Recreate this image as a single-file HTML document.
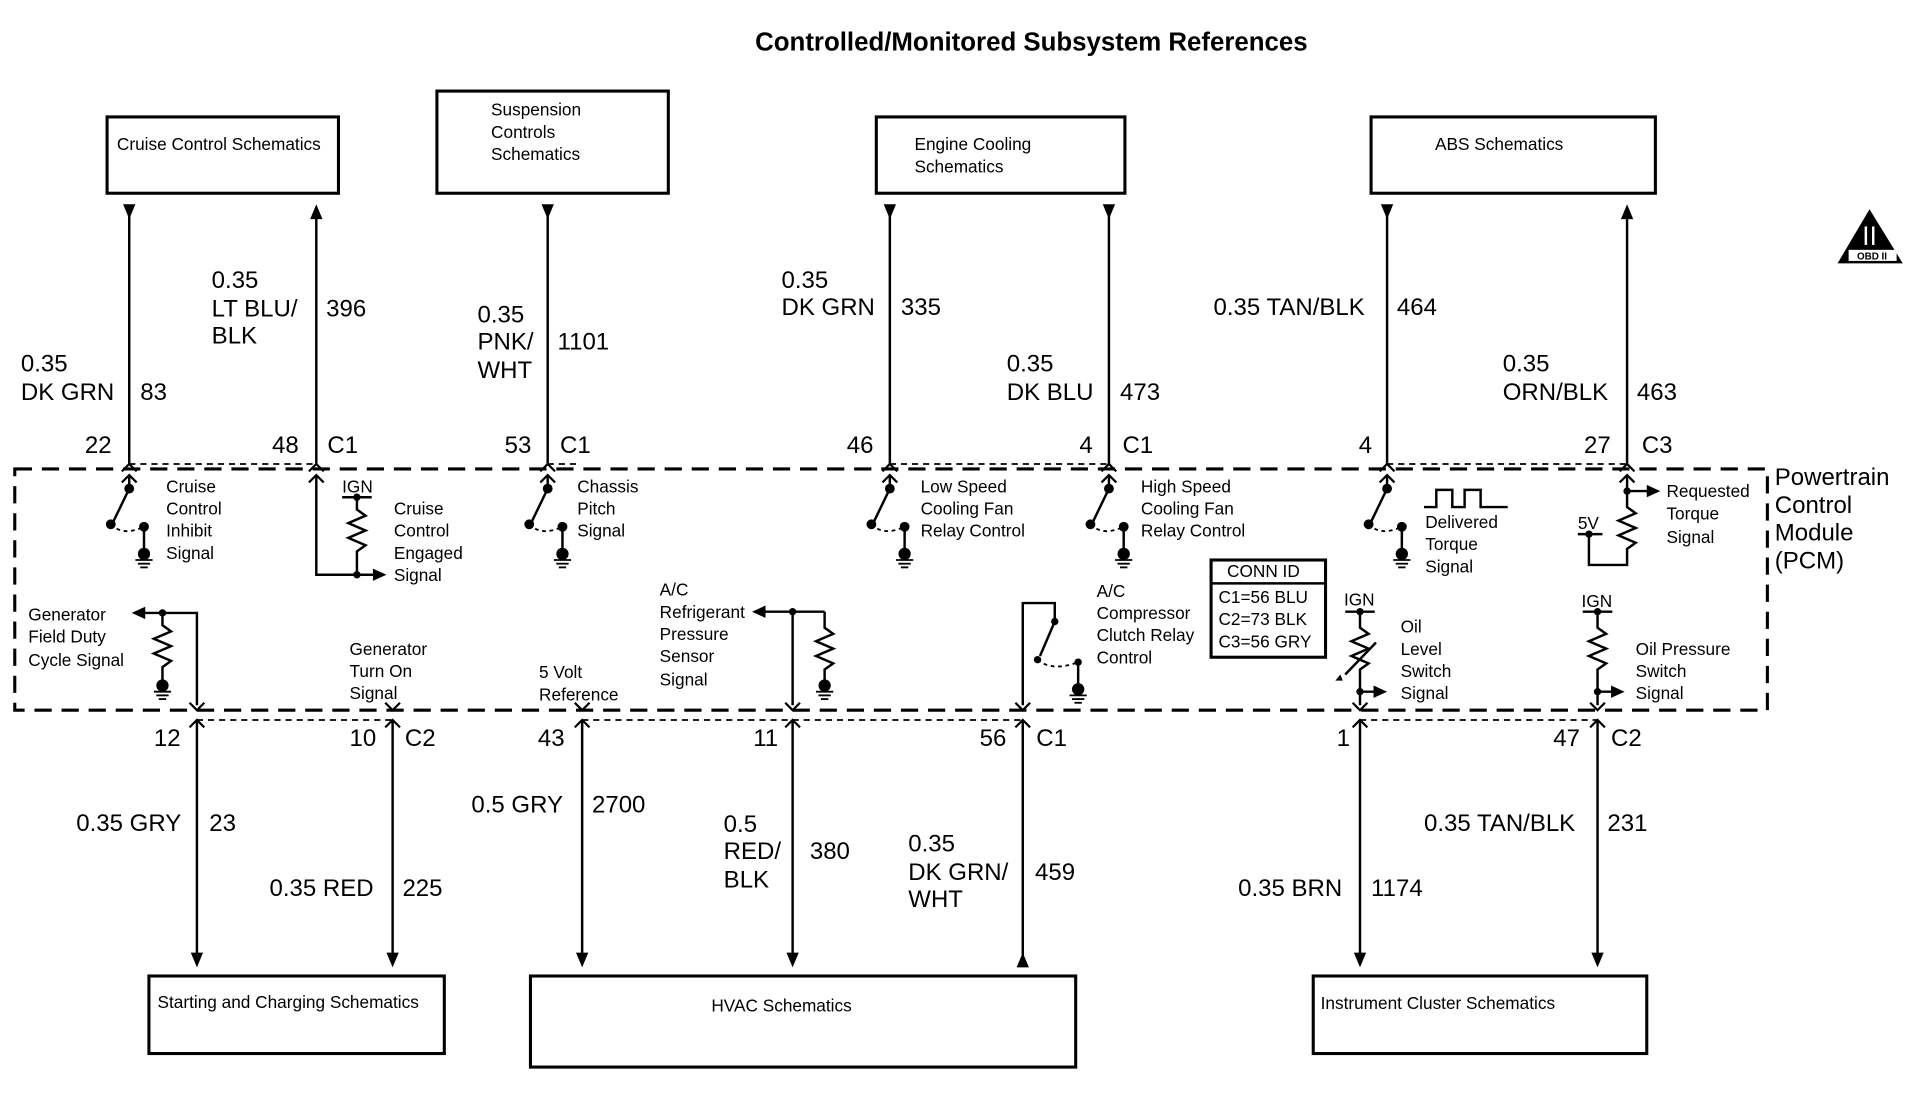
<!DOCTYPE html>
<html><head><meta charset="utf-8"><style>
html,body{margin:0;padding:0;background:#fff;}
svg{display:block;}
text{font-family:"Liberation Sans",Arial,sans-serif;fill:#000;}
.b{font-size:19.5px;}
.s{font-size:14px;}
</style></head><body>
<svg width="1920" height="1120" viewBox="0 0 1560 910" preserveAspectRatio="none" xmlns="http://www.w3.org/2000/svg">
<defs>
<g id="gnd"><circle cx="0" cy="0" r="5"/><line x1="-7" y1="5" x2="7" y2="5" stroke="#000" stroke-width="1.5"/><line x1="-5" y1="8" x2="5" y2="8" stroke="#000" stroke-width="1.5"/><line x1="-3" y1="11" x2="3" y2="11" stroke="#000" stroke-width="1.5"/></g>
<g id="sw" fill="none" stroke="#000" stroke-width="2"><line x1="0" y1="386" x2="0" y2="397"/><line x1="0" y1="397" x2="-13" y2="424"/><path d="M-15,426 Q-5,436 12,428" stroke-dasharray="3,3" stroke-width="1.5"/><line x1="12" y1="428" x2="12" y2="448"/><circle cx="0" cy="397" r="3" fill="#000"/><circle cx="-15" cy="426" r="3" fill="#000"/><circle cx="12" cy="428" r="3" fill="#000"/><use href="#gnd" x="12" y="450" stroke="none" fill="#000"/></g>
</defs>
<text x="838" y="41" text-anchor="middle" style="font-size:21px;font-weight:bold">Controlled/Monitored Subsystem References</text>
<g fill="none" stroke="#000" stroke-width="2.5">
<rect x="87" y="95" width="188" height="62"/><rect x="355" y="74" width="188" height="83"/><rect x="712" y="95" width="202" height="62"/><rect x="1114" y="95" width="231" height="62"/>
<rect x="121" y="793" width="240" height="63"/><rect x="431" y="793" width="443" height="74"/><rect x="1067" y="793" width="271" height="63"/>
<rect x="12" y="381" width="1424" height="196" stroke-dasharray="14,8"/>
</g>
<g class="s"><text x="95" y="122">Cruise Control Schematics</text><text x="399" y="94">Suspension</text><text x="399" y="112">Controls</text><text x="399" y="130">Schematics</text><text x="743" y="122">Engine Cooling</text><text x="743" y="140">Schematics</text><text x="1166" y="122">ABS Schematics</text><text x="128" y="819">Starting and Charging Schematics</text><text x="578" y="822">HVAC Schematics</text><text x="1073" y="820">Instrument Cluster Schematics</text></g>
<g stroke="#000" stroke-width="2" fill="none">
<line x1="105" y1="172" x2="105" y2="377"/>
<line x1="257" y1="172" x2="257" y2="377"/>
<line x1="445" y1="172" x2="445" y2="377"/>
<line x1="723" y1="172" x2="723" y2="377"/>
<line x1="901" y1="172" x2="901" y2="377"/>
<line x1="1127" y1="172" x2="1127" y2="377"/>
<line x1="1322" y1="172" x2="1322" y2="377"/>
<line x1="160" y1="585" x2="160" y2="780"/>
<line x1="319" y1="585" x2="319" y2="780"/>
<line x1="473" y1="585" x2="473" y2="780"/>
<line x1="644" y1="585" x2="644" y2="780"/>
<line x1="831" y1="585" x2="831" y2="780"/>
<line x1="1105" y1="585" x2="1105" y2="780"/>
<line x1="1298" y1="585" x2="1298" y2="780"/>
</g>
<g fill="#000">
<path d="M100,166 L110,166 L105,178z"/><path d="M440,166 L450,166 L445,178z"/><path d="M718,166 L728,166 L723,178z"/><path d="M896,166 L906,166 L901,178z"/><path d="M1122,166 L1132,166 L1127,178z"/>
<path d="M252,178 L262,178 L257,166z"/><path d="M1317,178 L1327,178 L1322,166z"/>
<path d="M155,774 L165,774 L160,786z"/><path d="M314,774 L324,774 L319,786z"/><path d="M468,774 L478,774 L473,786z"/><path d="M639,774 L649,774 L644,786z"/><path d="M1100,774 L1110,774 L1105,786z"/><path d="M1293,774 L1303,774 L1298,786z"/>
<path d="M826,786 L836,786 L831,774z"/>
</g>
<g stroke="#000" stroke-width="1.5" fill="none" stroke-dasharray="5,4">
<line x1="105" y1="377" x2="257" y2="377"/><line x1="445" y1="377" x2="470" y2="377"/><line x1="723" y1="377" x2="901" y2="377"/><line x1="1127" y1="377" x2="1322" y2="377"/>
<line x1="160" y1="585" x2="319" y2="585"/><line x1="473" y1="585" x2="831" y2="585"/><line x1="1105" y1="585" x2="1298" y2="585"/>
</g>
<g stroke="#000" stroke-width="1.8" fill="none">
<path d="M99,383 L105,377 L111,383"/><path d="M251,383 L257,377 L263,383"/><path d="M439,383 L445,377 L451,383"/><path d="M717,383 L723,377 L729,383"/><path d="M895,383 L901,377 L907,383"/><path d="M1121,383 L1127,377 L1133,383"/><path d="M1316,383 L1322,377 L1328,383"/>
<path d="M154,591 L160,585 L166,591"/><path d="M313,591 L319,585 L325,591"/><path d="M467,591 L473,585 L479,591"/><path d="M638,591 L644,585 L650,591"/><path d="M825,591 L831,585 L837,591"/><path d="M1099,591 L1105,585 L1111,591"/><path d="M1292,591 L1298,585 L1304,591"/>
<path d="M99,392 L105,386 L111,392"/><path d="M251,392 L257,386 L263,392"/><path d="M439,392 L445,386 L451,392"/><path d="M717,392 L723,386 L729,392"/><path d="M895,392 L901,386 L907,392"/><path d="M1121,392 L1127,386 L1133,392"/><path d="M1316,392 L1322,386 L1328,392"/>
<path d="M154,571 L160,577 L166,571"/><path d="M313,571 L319,577 L325,571"/><path d="M467,571 L473,577 L479,571"/><path d="M638,571 L644,577 L650,571"/><path d="M825,571 L831,577 L837,571"/><path d="M1099,571 L1105,577 L1111,571"/><path d="M1292,571 L1298,577 L1304,571"/>
</g>
<use href="#sw" x="105"/><use href="#sw" x="445"/><use href="#sw" x="723"/><use href="#sw" x="901"/><use href="#sw" x="1127"/>
<g stroke="#000" stroke-width="2" fill="none">
<path d="M257,386 V467 H290"/><line x1="278" y1="404" x2="302" y2="404"/><path d="M290,404 V414 l7,5 l-14,6 l14,6 l-14,6 l14,6 l-7,5 V467 H305"/>
<path d="M1322,386 V399 H1340"/><path d="M1322,399 V412 l7,5 l-14,6 l14,6 l-14,6 l14,6 l-7,5 V459 H1291 V434 H1282"/><line x1="1291" y1="434" x2="1302" y2="434"/>
<path d="M1157,412 H1167 V398 H1180 V412 H1190 V398 H1203 V412 H1225"/>
<path d="M160,573 V498 H117"/><path d="M132,498 V508 l7,5 l-14,6 l14,6 l-14,6 l14,6 l-7,5 V555"/>
<path d="M644,573 V497 H620"/><path d="M670,497 H644"/><path d="M670,497 V510 l7,5 l-14,6 l14,6 l-14,6 l14,6 l-7,5 V555"/>
<path d="M831,573 V490 H857 V505 L845,533"/><path d="M843,536 Q855,546 876,538" stroke-dasharray="3,3" stroke-width="1.5"/><line x1="876" y1="538" x2="876" y2="558"/>
<path d="M1105,573 V562"/><line x1="1093" y1="497" x2="1117" y2="497"/><path d="M1105,497 V510 l7,5 l-14,6 l14,6 l-14,6 l14,6 l-7,5 V562 H1118"/><line x1="1093" y1="548" x2="1118" y2="522"/>
<line x1="1286" y1="497" x2="1310" y2="497"/><path d="M1298,497 V510 l7,5 l-14,6 l14,6 l-14,6 l14,6 l-7,5 V573"/><path d="M1298,562 H1311"/>
<rect x="984" y="455" width="93" height="79" stroke-width="2.5"/><line x1="984" y1="474" x2="1077" y2="474"/>
</g>
<g fill="#000">
<circle cx="290" cy="404" r="3"/><circle cx="290" cy="467" r="3"/><path d="M303,462 L314,467 L303,472z"/>
<circle cx="1322" cy="399" r="3"/><path d="M1338,394 L1349,399 L1338,404z"/><circle cx="1291" cy="434" r="3"/>
<path d="M118,493 L107,498 L118,503z"/><circle cx="132" cy="498" r="3"/><use href="#gnd" x="132" y="557"/>
<path d="M622,492 L611,497 L622,502z"/><circle cx="644" cy="497" r="3"/><use href="#gnd" x="670" y="557"/>
<circle cx="857" cy="505" r="3"/><circle cx="843" cy="536" r="3"/><circle cx="876" cy="538" r="3"/><use href="#gnd" x="876" y="560"/>
<circle cx="1105" cy="497" r="3"/><circle cx="1105" cy="562" r="3"/><path d="M1116,557 L1127,562 L1116,567z"/><path d="M1091,553 l-6,0 l4,-5z"/>
<circle cx="1298" cy="497" r="3"/><circle cx="1298" cy="562" r="3"/><path d="M1309,557 L1320,562 L1309,567z"/>
<path d="M1519,170 L1546,214 L1493,214z"/>
</g>
<rect x="1502" y="203" width="39" height="9" fill="#fff"/><text x="1521" y="211" text-anchor="middle" style="font-size:8px;font-weight:bold">OBD II</text>
<rect x="1515" y="184" width="2" height="15" fill="#fff"/><rect x="1521" y="184" width="2" height="15" fill="#fff"/>
<g class="s">
<text x="135" y="400">Cruise</text><text x="135" y="418">Control</text><text x="135" y="436">Inhibit</text><text x="135" y="454">Signal</text>
<text x="278" y="400">IGN</text><text x="320" y="418">Cruise</text><text x="320" y="436">Control</text><text x="320" y="454">Engaged</text><text x="320" y="472">Signal</text>
<text x="469" y="400">Chassis</text><text x="469" y="418">Pitch</text><text x="469" y="436">Signal</text>
<text x="748" y="400">Low Speed</text><text x="748" y="418">Cooling Fan</text><text x="748" y="436">Relay Control</text>
<text x="927" y="400">High Speed</text><text x="927" y="418">Cooling Fan</text><text x="927" y="436">Relay Control</text>
<text x="1158" y="429">Delivered</text><text x="1158" y="447">Torque</text><text x="1158" y="465">Signal</text>
<text x="1354" y="404">Requested</text><text x="1354" y="422">Torque</text><text x="1354" y="441">Signal</text><text x="1282" y="430">5V</text>
<text x="23" y="504">Generator</text><text x="23" y="522">Field Duty</text><text x="23" y="541">Cycle Signal</text>
<text x="284" y="532">Generator</text><text x="284" y="550">Turn On</text><text x="284" y="568">Signal</text>
<text x="438" y="551">5 Volt</text><text x="438" y="569">Reference</text>
<text x="536" y="484">A/C</text><text x="536" y="502">Refrigerant</text><text x="536" y="520">Pressure</text><text x="536" y="538">Sensor</text><text x="536" y="557">Signal</text>
<text x="891" y="485">A/C</text><text x="891" y="503">Compressor</text><text x="891" y="521">Clutch Relay</text><text x="891" y="539">Control</text>
<text x="1092" y="492">IGN</text><text x="1138" y="514">Oil</text><text x="1138" y="532">Level</text><text x="1138" y="550">Switch</text><text x="1138" y="568">Signal</text>
<text x="1285" y="493">IGN</text><text x="1329" y="532">Oil Pressure</text><text x="1329" y="550">Switch</text><text x="1329" y="568">Signal</text>
<text x="997" y="469">CONN ID</text><text x="990" y="490">C1=56 BLU</text><text x="990" y="508">C2=73 BLK</text><text x="990" y="526">C3=56 GRY</text>
</g>
<g class="b">
<text x="17" y="302">0.35</text><text x="17" y="325">DK GRN</text><text x="114" y="325">83</text>
<text x="172" y="234">0.35</text><text x="172" y="257">LT BLU/</text><text x="172" y="279">BLK</text><text x="265" y="257">396</text>
<text x="388" y="262">0.35</text><text x="388" y="284">PNK/</text><text x="388" y="307">WHT</text><text x="453" y="284">1101</text>
<text x="635" y="234">0.35</text><text x="635" y="256">DK GRN</text><text x="732" y="256">335</text>
<text x="818" y="302">0.35</text><text x="818" y="325">DK BLU</text><text x="910" y="325">473</text>
<text x="986" y="256">0.35 TAN/BLK</text><text x="1135" y="256">464</text>
<text x="1221" y="302">0.35</text><text x="1221" y="325">ORN/BLK</text><text x="1330" y="325">463</text>
<text x="69" y="368">22</text><text x="221" y="368">48</text><text x="266" y="368">C1</text><text x="410" y="368">53</text><text x="455" y="368">C1</text><text x="688" y="368">46</text><text x="877" y="368">4</text><text x="912" y="368">C1</text><text x="1104" y="368">4</text><text x="1287" y="368">27</text><text x="1334" y="368">C3</text>
<text x="125" y="606">12</text><text x="284" y="606">10</text><text x="329" y="606">C2</text><text x="437" y="606">43</text><text x="612" y="606">11</text><text x="796" y="606">56</text><text x="842" y="606">C1</text><text x="1086" y="606">1</text><text x="1262" y="606">47</text><text x="1309" y="606">C2</text>
<text x="62" y="675">0.35 GRY</text><text x="170" y="675">23</text>
<text x="219" y="728">0.35 RED</text><text x="327" y="728">225</text>
<text x="383" y="660">0.5 GRY</text><text x="481" y="660">2700</text>
<text x="588" y="676">0.5</text><text x="588" y="698">RED/</text><text x="588" y="721">BLK</text><text x="658" y="698">380</text>
<text x="738" y="692">0.35</text><text x="738" y="715">DK GRN/</text><text x="738" y="737">WHT</text><text x="841" y="715">459</text>
<text x="1006" y="728">0.35 BRN</text><text x="1114" y="728">1174</text>
<text x="1157" y="675">0.35 TAN/BLK</text><text x="1306" y="675">231</text>
<text x="1442" y="394">Powertrain</text><text x="1442" y="417">Control</text><text x="1442" y="439">Module</text><text x="1442" y="462">(PCM)</text>
</g>
</svg>
</body></html>
